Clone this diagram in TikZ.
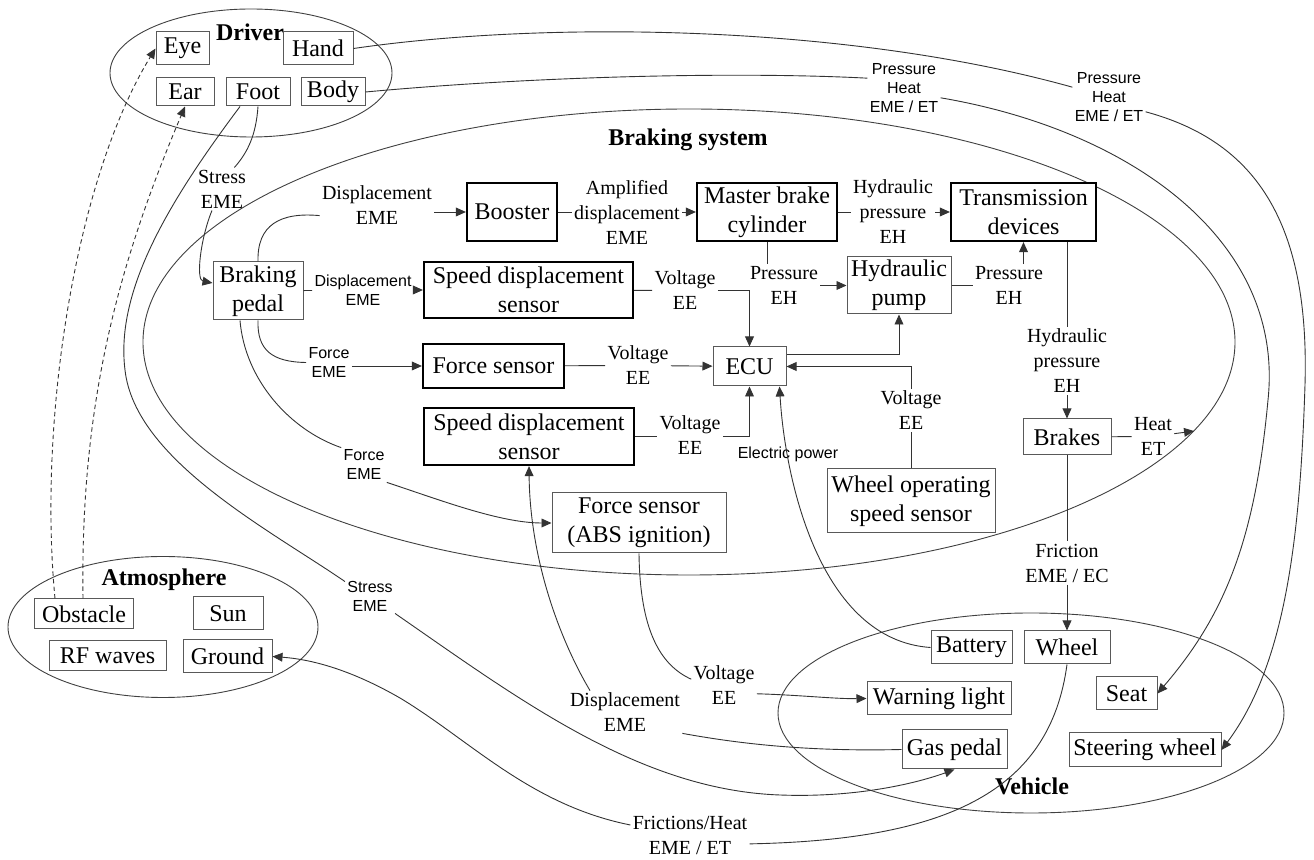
\documentclass[tikz,border=0pt]{standalone}
\usepackage{fontspec}
\setmainfont{Liberation Serif}
\newfontfamily\lsans{Liberation Sans}
\usetikzlibrary{arrows.meta,shapes.geometric,calc}
\begin{document}
\begin{tikzpicture}[x=0.5pt,y=-0.5pt,
  ln/.style={line width=0.45pt, draw=black!80},
  arr/.style={ln, -{Triangle[length=5pt,width=4.4pt]}},
  dsh/.style={arr, dash pattern=on 2.2pt off 1.6pt},
  box/.style={draw=black!65, line width=0.5pt, fill=white, font=\fontsize{12}{14.5}\selectfont, align=center, inner sep=0pt},
  tbox/.style={box, draw=black, line width=1.1pt},
  lbl/.style={font=\fontsize{10}{12.5}\selectfont, align=center, inner sep=1pt},
  slbl/.style={font=\lsans\fontsize{8}{9.5}\selectfont, align=center, inner sep=1pt},
  grp/.style={draw=black!75, line width=0.45pt, ellipse, inner sep=0pt},
  ttl/.style={font=\bfseries\fontsize{12}{14}\selectfont, inner sep=0pt}
]
\useasboundingbox (0,0) rectangle (1314,860);

% group ellipses
\node[grp, minimum width=546pt, minimum height=233pt] (bsys) at (689,342) {};
\node[grp, minimum width=141pt, minimum height=64pt] (drv) at (251,73) {};
\node[grp, minimum width=155pt, minimum height=70.5pt] (atm) at (163,627) {};
\node[grp, minimum width=253pt, minimum height=100pt] (veh) at (1031,713) {};

% titles
\node[ttl] (tdrv) at (250,32) {Driver};
\node[ttl] (tbs) at (688,140) {Braking system};
\node[ttl] (tatm) at (164,580) {Atmosphere};
\node[ttl] (tveh) at (1032,786) {Vehicle};

% driver
\node[box, minimum width=26.5pt, minimum height=16.5pt] (eye) at (182.5,48.5) {Eye};
\node[box, minimum width=35pt, minimum height=16.5pt] (hand) at (318,48.5) {Hand};
\node[box, minimum width=29pt, minimum height=14pt] (ear) at (185,92) {Ear};
\node[box, minimum width=32pt, minimum height=14pt] (foot) at (258,92) {Foot};
\node[box, minimum width=32pt, minimum height=14pt] (body) at (333,92) {Body};

% atmosphere
\node[box, minimum width=49.5pt, minimum height=15pt] (obstacle) at (84,614) {Obstacle};
\node[box, minimum width=35pt, minimum height=16.5pt] (sun) at (228,613.5) {Sun};
\node[box, minimum width=58.5pt, minimum height=15pt] (rf) at (107.5,656) {RF waves};
\node[box, minimum width=44.5pt, minimum height=16.5pt] (ground) at (227.5,656.5) {Ground};

% braking system
\node[tbox, minimum width=45pt, minimum height=29pt] (booster) at (512,212) {Booster};
\node[tbox, minimum width=70pt, minimum height=29pt] (master) at (767,212) {Master brake\\cylinder};
\node[tbox, minimum width=72.5pt, minimum height=29pt] (trans) at (1023.5,212) {Transmission\\devices};
\node[box, minimum width=45pt, minimum height=29pt] (pedal) at (258,291) {Braking\\pedal};
\node[tbox, minimum width=104.5pt, minimum height=28pt] (sds1) at (528.5,290) {Speed displacement\\sensor};
\node[tbox, minimum width=70.5pt, minimum height=22pt] (force) at (493.5,366) {Force sensor};
\node[box, minimum width=36.5pt, minimum height=19.5pt] (ecu) at (749.5,366.5) {ECU};
\node[box, minimum width=52pt, minimum height=28.5pt] (pump) at (899,285.5) {Hydraulic\\pump};
\node[tbox, minimum width=105pt, minimum height=28.5pt] (sds2) at (529,436.5) {Speed displacement\\sensor};
\node[box, minimum width=87pt, minimum height=30pt] (abs) at (639,523) {Force sensor\\(ABS ignition)};
\node[box, minimum width=84pt, minimum height=32pt] (wos) at (911,501) {Wheel operating\\speed sensor};
\node[box, minimum width=44pt, minimum height=18pt] (brakes) at (1067,437) {Brakes};

% vehicle
\node[box, minimum width=40.5pt, minimum height=16.5pt] (battery) at (971.5,647.5) {Battery};
\node[box, minimum width=43pt, minimum height=16.5pt] (wheel) at (1067,647.5) {Wheel};
\node[box, minimum width=72pt, minimum height=16.5pt] (warn) at (939,698.5) {Warning light};
\node[box, minimum width=30.5pt, minimum height=16.5pt] (seat) at (1126.5,693.5) {Seat};
\node[box, minimum width=52.5pt, minimum height=19.5pt] (gas) at (954.5,749.5) {Gas pedal};
\node[box, minimum width=76pt, minimum height=17pt] (steer) at (1145,750) {Steering wheel};

% labels
\node[lbl] (Lst1) at (222,189) {Stress\\EME};
\node[slbl] (Lst2) at (370,596) {Stress\\EME};
\node[lbl] (Ld1) at (377,205.5) {Displacement\\EME};
\node[slbl] (Ld2) at (363,290) {Displacement\\EME};
\node[slbl] (Lf1) at (329,362.5) {Force\\EME};
\node[slbl] (Lf2) at (364,465) {Force\\EME};
\node[lbl] (Lamp) at (627,212) {Amplified\\displacement\\EME};
\node[lbl] (Lh1) at (893,212) {Hydraulic\\pressure\\EH};
\node[lbl] (Lp1) at (784,285.5) {Pressure\\EH};
\node[lbl] (Lp2) at (1009,285.5) {Pressure\\EH};
\node[lbl] (Lh2) at (1067,361) {Hydraulic\\pressure\\EH};
\node[lbl] (Lheat) at (1153,436.5) {Heat\\ET};
\node[lbl] (Lfr) at (1067,563) {Friction\\EME / EC};
\node[lbl] (Lv1) at (685,290.5) {Voltage\\EE};
\node[lbl] (Lv2) at (638,365.5) {Voltage\\EE};
\node[lbl] (Lv3) at (690,435) {Voltage\\EE};
\node[lbl] (Lv4) at (911,410.5) {Voltage\\EE};
\node[lbl] (Lv5) at (724,685) {Voltage\\EE};
\node[lbl] (Ld3) at (625,712.5) {Displacement\\EME};
\node[lbl] (Lfh) at (690,835.5) {Frictions/Heat\\EME / ET};
\node[slbl] (Lph1) at (904,88) {Pressure\\Heat\\EME / ET};
\node[slbl] (Lph2) at (1109,97) {Pressure\\Heat\\EME / ET};
\node[slbl] (Lep) at (788,454) {Electric power};

% driver connectors
\draw[ln] (hand.east) .. controls (550,20) and (850,25) .. (Lph2.165);
\draw[arr] (Lph2.-22) .. controls (1250,140) and (1310,215) .. (1305,385) .. controls (1300,540) and (1285,665) .. (steer.east);
\draw[ln] (body.east) .. controls (550,75) and (750,72) .. (Lph1.165);
\draw[arr] (Lph1.-15) .. controls (1130,130) and (1285,240) .. (1268,400) .. controls (1255,540) and (1225,615) .. (seat.east);
\draw[dsh] ([xshift=-14.5pt]obstacle.north) .. controls (38,420) and (75,180) .. (eye.west);
\draw[dsh] ([xshift=-0.5pt]obstacle.north) .. controls (80,400) and (120,260) .. (ear.south);
\draw[ln] (foot.south) .. controls (256,135) and (248,152) .. (Lst1.60);
\draw[arr] (Lst1.-115) .. controls (200,240) and (196,280) .. (pedal.170);
\draw[ln] ([xshift=-9pt]foot.south) .. controls (170,200) and (115,290) .. (125,370) .. controls (135,460) and (270,530) .. (Lst2.150);
\draw[arr] (Lst2.south east) .. controls (520,700) and (640,790) .. (780,795) .. controls (860,798) and (920,782) .. (gas.south);

% pedal connectors
\draw[ln] (pedal.north) .. controls (257,225) and (280,212) .. (Ld1.190);
\draw[arr] (Ld1.east |- booster.west) -- (booster.west);
\draw[ln] (pedal) -- (Ld2);
\draw[arr] (Ld2) -- (sds1);
\draw[ln] (pedal.south) .. controls (257,350) and (272,362) .. (Lf1.west);
\draw[arr] (Lf1.east |- force.west) -- (force.west);
\draw[ln] ([xshift=-9pt]pedal.south) .. controls (245,380) and (290,430) .. (Lf2.north west);
\draw[arr] (Lf2.south east) .. controls (440,500) and (500,523) .. (abs.west);

% hydraulic chain
\draw[ln] (booster) -- (Lamp);
\draw[arr] (Lamp) -- (master);
\draw[ln] (master) -- (Lh1);
\draw[arr] (Lh1) -- (trans);
\draw[ln] (master.south) -- (master.south |- Lp1.north);
\draw[arr] (Lp1.east |- pump.west) -- (pump.west);
\draw[ln] (pump) -- (Lp2);
\draw[arr] (trans.south |- Lp2.north) -- (trans.south);
\draw[ln] (trans.south -| brakes.north) -- (Lh2.north);
\draw[arr] (Lh2.south) -- (brakes.north);
\draw[ln] (brakes) -- (Lheat);
\draw[arr] (Lheat) -- (bsys.-10.6);
\draw[ln] (brakes) -- (Lfr);
\draw[arr] (Lfr) -- (wheel);

% ECU
\draw[ln] (sds1) -- (Lv1);
\draw[arr] (Lv1.east) -| (ecu.north);
\draw[ln] (force) -- (Lv2);
\draw[arr] (Lv2) -- (ecu);
\draw[ln] (sds2.east) -- (sds2.east -| Lv3.west);
\draw[arr] (Lv3.east |- sds2.east) -| (ecu.south);
\draw[arr] (ecu.18) -| (pump.south);
\draw[ln] (wos) -- (Lv4);
\draw[arr] (Lv4.north) |- (ecu.east);
\draw[arr] (battery.west) .. controls (820,640) and (785,480) .. ($(ecu.south east)+(-7,0)$);

% lower connectors
\draw[ln] (abs.south) .. controls (640,630) and (660,665) .. (Lv5.170);
\draw[arr] (Lv5.-15) .. controls (800,695) and (835,699) .. (warn.west);
\draw[ln] (gas.west) .. controls (800,752) and (730,742) .. (Ld3.-20);
\draw[arr] (Ld3.148) .. controls (560,640) and (530,560) .. (sds2.south);
\draw[ln] (wheel.south) .. controls (1050,790) and (950,840) .. (Lfh.-8);
\draw[arr] (Lfh.170) .. controls (530,805) and (470,740) .. (400,698) .. controls (360,675) and (320,660) .. (ground.east);
\end{tikzpicture}
\end{document}
